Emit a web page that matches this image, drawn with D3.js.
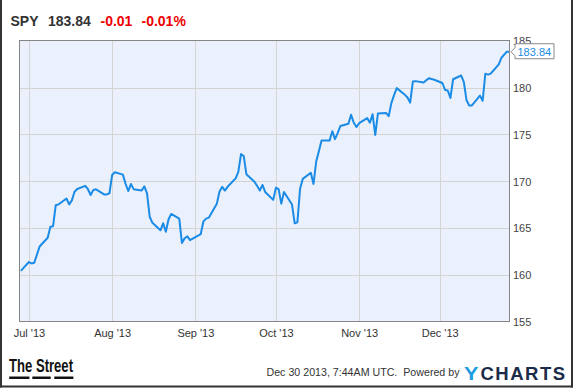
<!DOCTYPE html>
<html>
<head>
<meta charset="utf-8">
<script src="https://cdn.jsdelivr.net/npm/d3@7"></script>
<style>
  html, body { margin: 0; padding: 0; background: #fff; }
  svg { display: block; }
  text { font-family: "Liberation Sans", Arial, sans-serif; }
</style>
</head>
<body>
<svg id="chart" width="575" height="388"></svg>
<script>
// ---- data ----
const ticker = "SPY";
const lastPrice = "183.84";
const change = "-0.01";
const changePct = "-0.01%";

const dates = [
  "2013-06-28",
  "2013-07-01","2013-07-02","2013-07-03","2013-07-05","2013-07-08","2013-07-09","2013-07-10","2013-07-11","2013-07-12",
  "2013-07-15","2013-07-16","2013-07-17","2013-07-18","2013-07-19","2013-07-22","2013-07-23","2013-07-24","2013-07-25","2013-07-26",
  "2013-07-29","2013-07-30","2013-07-31",
  "2013-08-01","2013-08-02","2013-08-05","2013-08-06","2013-08-07","2013-08-08","2013-08-09","2013-08-12","2013-08-13","2013-08-14",
  "2013-08-15","2013-08-16","2013-08-19","2013-08-20","2013-08-21","2013-08-22","2013-08-23","2013-08-26","2013-08-27","2013-08-28",
  "2013-08-29","2013-08-30",
  "2013-09-03","2013-09-04","2013-09-05","2013-09-06","2013-09-09","2013-09-10","2013-09-11","2013-09-12","2013-09-13","2013-09-16",
  "2013-09-17","2013-09-18","2013-09-19","2013-09-20","2013-09-23","2013-09-24","2013-09-25","2013-09-26","2013-09-27","2013-09-30",
  "2013-10-01","2013-10-02","2013-10-03","2013-10-04","2013-10-07","2013-10-08","2013-10-09","2013-10-10","2013-10-11","2013-10-14",
  "2013-10-15","2013-10-16","2013-10-17","2013-10-18","2013-10-21","2013-10-22","2013-10-23","2013-10-24","2013-10-25","2013-10-28",
  "2013-10-29","2013-10-30","2013-10-31",
  "2013-11-01","2013-11-04","2013-11-05","2013-11-06","2013-11-07","2013-11-08","2013-11-11","2013-11-12","2013-11-13","2013-11-14",
  "2013-11-15","2013-11-18","2013-11-19","2013-11-20","2013-11-21","2013-11-22","2013-11-25","2013-11-26","2013-11-27","2013-11-29",
  "2013-12-02","2013-12-03","2013-12-04","2013-12-05","2013-12-06","2013-12-09","2013-12-10","2013-12-11","2013-12-12","2013-12-13",
  "2013-12-16","2013-12-17","2013-12-18","2013-12-19","2013-12-20","2013-12-23","2013-12-24","2013-12-26","2013-12-27"
];
const closes = [
  160.42,
  161.36,161.21,161.28,163.02,163.95,165.13,165.19,167.44,167.51,
  168.15,167.52,167.95,168.87,169.17,169.50,169.14,168.52,169.07,169.13,
  168.59,168.59,168.71,
  170.66,170.95,170.70,169.73,168.95,169.70,169.15,169.00,169.45,168.70,
  166.20,165.55,164.75,165.50,164.60,165.90,166.50,166.00,163.40,163.90,
  164.10,163.70,
  164.35,165.70,166.00,166.10,167.60,168.90,169.40,169.00,169.40,170.30,
  171.00,172.90,172.70,170.75,169.95,169.50,169.00,169.60,168.85,168.00,
  169.30,169.15,167.60,168.85,167.50,165.50,165.60,169.20,170.25,170.90,
  169.70,172.10,173.20,174.35,174.35,175.35,174.50,175.15,175.90,176.15,
  177.10,176.25,175.80,
  176.20,176.75,176.25,177.15,174.95,177.25,177.30,176.95,178.35,179.20,
  179.95,179.25,178.95,178.40,180.65,180.70,180.55,180.80,181.00,180.85,
  180.50,179.75,179.70,178.90,180.90,181.30,180.60,178.65,178.10,178.10,
  179.15,178.60,181.50,181.40,181.50,182.50,183.20,183.85,183.84
];
const monthTicks = ["2013-07-01","2013-08-01","2013-09-01","2013-10-01","2013-11-01","2013-12-01"];
const monthLabels = ["Jul '13","Aug '13","Sep '13","Oct '13","Nov '13","Dec '13"];
const yTicks = [155,160,165,170,175,180,185];
const xDomain = ["2013-06-27T12:00","2013-12-27T00:00"];
const yDomain = [155,185];
const footerText = "Dec 30 2013, 7:44AM UTC.  Powered by";

// ---- drawing ----
const parseDay = d3.timeParse("%Y-%m-%d");
const parseDT = d3.timeParse("%Y-%m-%dT%H:%M");
const series = dates.map((d, i) => ({ date: parseDay(d), value: closes[i] }));

const svg = d3.select("#chart");
const plot = { left: 19.5, right: 509.5, top: 40.5, bottom: 321.5 };

const x = d3.scaleTime()
  .domain(xDomain.map(parseDT))
  .range([plot.left, plot.right]);
const y = d3.scaleLinear()
  .domain(yDomain)
  .range([plot.bottom, 40.9]);

// outer frame (left, right, bottom)
svg.append("rect").attr("x", 0).attr("y", 0).attr("width", 2).attr("height", 387.5).attr("fill", "#333");
svg.append("rect").attr("x", 571).attr("y", 0).attr("width", 2).attr("height", 387.5).attr("fill", "#333");
svg.append("rect").attr("x", 0).attr("y", 385.5).attr("width", 573).attr("height", 2).attr("fill", "#333");

// title
const title = svg.append("text").attr("x", 10.5).attr("y", 26)
  .attr("font-size", 14).attr("font-weight", "bold");
title.append("tspan").attr("fill", "#333").text(ticker);
title.append("tspan").attr("x", 48).attr("fill", "#333").text(lastPrice);
title.append("tspan").attr("x", 100.5).attr("fill", "#ee0000").text(change);
title.append("tspan").attr("x", 141.5).attr("fill", "#ee0000").text(changePct);

// plot background
svg.append("rect")
  .attr("x", plot.left).attr("y", plot.top)
  .attr("width", plot.right - plot.left).attr("height", plot.bottom - plot.top)
  .attr("fill", "#eaf1fc");

// horizontal gridlines
svg.append("g").selectAll("line")
  .data(yTicks.filter(v => v > yDomain[0] && v < yDomain[1]))
  .join("line")
  .attr("x1", plot.left).attr("x2", plot.right)
  .attr("y1", d => Math.round(y(d)) + 0.5).attr("y2", d => Math.round(y(d)) + 0.5)
  .attr("stroke", "#d4d4d4").attr("stroke-width", 1);

// vertical gridlines
const tickDates = monthTicks.map(parseDay);
svg.append("g").selectAll("line")
  .data(tickDates)
  .join("line")
  .attr("x1", d => Math.round(x(d)) + 0.5).attr("x2", d => Math.round(x(d)) + 0.5)
  .attr("y1", plot.top).attr("y2", plot.bottom)
  .attr("stroke", "#d4d4d4").attr("stroke-width", 1);

// price line
const line = d3.line().x(d => x(d.date)).y(d => y(d.value));
svg.append("path")
  .datum(series)
  .attr("d", line)
  .attr("fill", "none")
  .attr("stroke", "#1a8be6")
  .attr("stroke-width", 2)
  .attr("stroke-linejoin", "round");

// plot border
svg.append("rect")
  .attr("x", plot.left).attr("y", plot.top)
  .attr("width", plot.right - plot.left).attr("height", plot.bottom - plot.top)
  .attr("fill", "none").attr("stroke", "#858585").attr("stroke-width", 1);

// x axis labels
const xAxis = d3.axisBottom(x).tickValues(tickDates)
  .tickFormat((d, i) => monthLabels[i]).tickSize(0).tickPadding(0);
const gx = svg.append("g").attr("transform", `translate(0,${plot.bottom})`).call(xAxis);
gx.select(".domain").remove();
gx.selectAll("text")
  .attr("y", 15).attr("dy", 0)
  .attr("font-size", 11).attr("fill", "#333")
  .attr("font-family", '"Liberation Sans", Arial, sans-serif');

// y axis labels (right)
const yAxis = d3.axisRight(y).tickValues(yTicks).tickSize(0).tickPadding(0);
const gy = svg.append("g").attr("transform", `translate(${plot.right + 3.5},0)`).call(yAxis);
gy.select(".domain").remove();
gy.selectAll("text")
  .attr("x", 0).attr("dy", "0.35em")
  .attr("font-size", 11).attr("fill", "#444")
  .attr("font-family", '"Liberation Sans", Arial, sans-serif');

// last value flag
const last = series[series.length - 1];
const lx = x(last.date) + 1.5, ly = y(last.value);
const flag = svg.append("g");
flag.append("path")
  .attr("d", `M${lx},${ly} L${lx + 4},${ly - 4} L${lx + 4},${ly - 8} L${lx + 43},${ly - 8} L${lx + 43},${ly + 7} L${lx + 4},${ly + 7} L${lx + 4},${ly + 4} Z`)
  .attr("fill", "#fff").attr("stroke", "#888").attr("stroke-width", 1);
flag.append("text")
  .attr("x", lx + 6.5).attr("y", ly).attr("dy", "0.35em")
  .attr("font-size", 11).attr("fill", "#1a8be6")
  .text(last.value.toFixed(2));

// footer: The Street logo
svg.append("text")
  .attr("x", 9).attr("y", 371.5)
  .attr("font-family", '"Liberation Sans Narrow", "DejaVu Sans Condensed", sans-serif')
  .attr("font-weight", "bold").attr("font-size", 18)
  .attr("textLength", 64).attr("lengthAdjust", "spacingAndGlyphs")
  .attr("fill", "#111").text("The Street");
[[9.2, 29.4], [32.3, 50.7], [54.3, 73.4]].forEach(([a, b]) => {
  svg.append("rect").attr("x", a).attr("y", 376.5).attr("width", b - a).attr("height", 2.5).attr("fill", "#111");
});

// footer text
svg.append("text")
  .attr("x", 266.5).attr("y", 376)
  .attr("font-size", 11).attr("fill", "#333")
  .attr("xml:space", "preserve")
  .attr("textLength", 193).attr("lengthAdjust", "spacingAndGlyphs")
  .text(footerText);

// YCHARTS logo
svg.append("text")
  .attr("x", 464).attr("y", 380)
  .attr("font-weight", "bold").attr("font-size", 18.5)
  .attr("textLength", 14.5).attr("lengthAdjust", "spacingAndGlyphs")
  .attr("fill", "#1e9de3").text("Y");
svg.append("text")
  .attr("x", 480.5).attr("y", 380)
  .attr("font-weight", "bold").attr("font-size", 18.5)
  .attr("textLength", 84.5).attr("lengthAdjust", "spacing")
  .attr("fill", "#1c2b49").text("CHARTS");
</script>
</body>
</html>
